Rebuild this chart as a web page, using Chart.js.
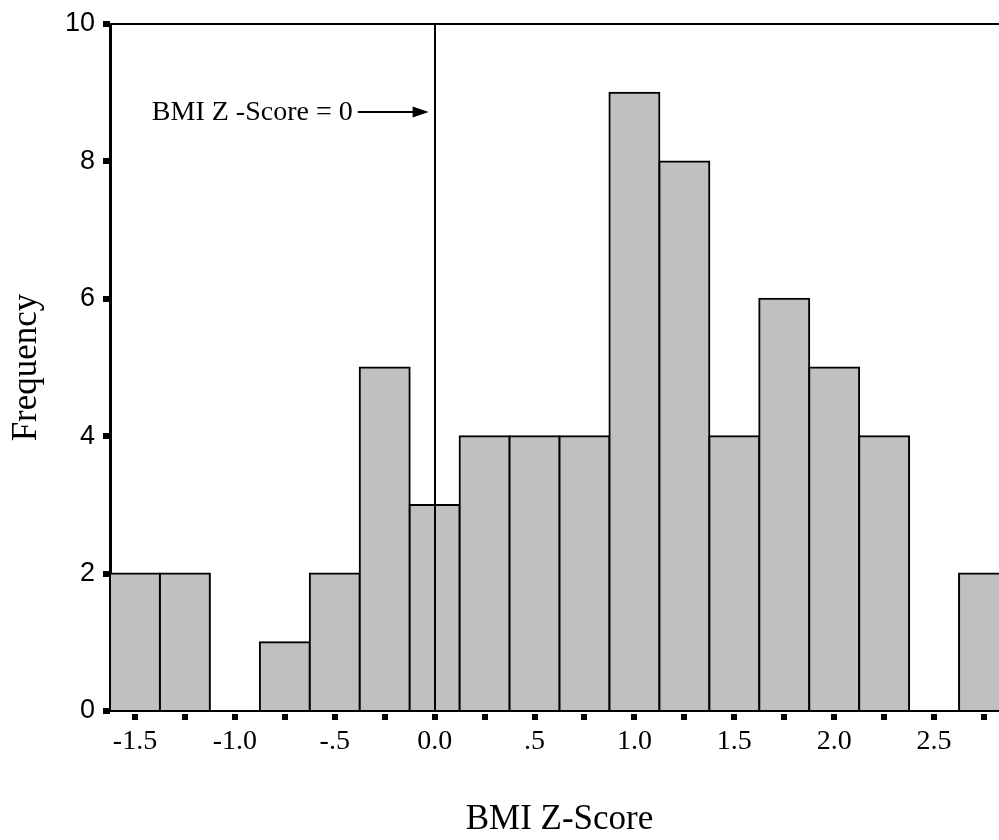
<!DOCTYPE html>
<html>
<head>
<meta charset="utf-8">
<script src="https://cdn.jsdelivr.net/npm/chart.js@4/dist/chart.umd.min.js"></script>
<style>
  html, body { margin: 0; padding: 0; background: #fff; overflow: hidden; width: 999px; height: 840px; }
  #wrap { width: 1012px; height: 840px; }
</style>
</head>
<body>
<div id="wrap"><canvas id="c" width="1012" height="840"></canvas></div>
<script>
// ---- data ----
const binCenters = [-1.5, -1.25, -1.0, -0.75, -0.5, -0.25, 0.0, 0.25, 0.5, 0.75, 1.0, 1.25, 1.5, 1.75, 2.0, 2.25, 2.5, 2.75];
const frequencies = [2, 2, 0, 1, 2, 5, 3, 4, 4, 4, 9, 8, 4, 6, 5, 4, 0, 2];
const xTickValues = [-1.5, -1.0, -0.5, 0.0, 0.5, 1.0, 1.5, 2.0, 2.5];
const xTickLabels = ['-1.5', '-1.0', '-.5', '0.0', '.5', '1.0', '1.5', '2.0', '2.5'];
const yTickValues = [0, 2, 4, 6, 8, 10];
const xTitle = 'BMI Z-Score';
const yTitle = 'Frequency';
const refLineValue = 0;
const annotationText = 'BMI Z -Score = 0';
const annotationY = 8.72;
const annotationTextEndX = -0.41;
const arrowStartX = -0.385;
const arrowTipX = -0.03;

const points = binCenters.map((x, i) => ({ x: x, y: frequencies[i] }));

const decorPlugin = {
  id: 'decor',
  afterDatasetsDraw(chart) {
    const { ctx, chartArea, scales } = chart;
    const xs = scales.x, ys = scales.y;
    ctx.save();
    ctx.strokeStyle = '#000';
    ctx.fillStyle = '#000';
    // top border line
    ctx.lineWidth = 2;
    ctx.beginPath();
    ctx.moveTo(chartArea.left, chartArea.top);
    ctx.lineTo(chartArea.right, chartArea.top);
    ctx.stroke();
    // reference line at 0
    const zx = Math.round(xs.getPixelForValue(refLineValue));
    ctx.beginPath();
    ctx.moveTo(zx, chartArea.top);
    ctx.lineTo(zx, chartArea.bottom);
    ctx.stroke();
    // annotation
    const ay = ys.getPixelForValue(annotationY);
    ctx.font = '28px "Liberation Serif", "Times New Roman", serif';
    ctx.textAlign = 'right';
    ctx.textBaseline = 'middle';
    ctx.fillText(annotationText, xs.getPixelForValue(annotationTextEndX), ay + 1);
    const sx = xs.getPixelForValue(arrowStartX);
    const tx = xs.getPixelForValue(arrowTipX);
    ctx.beginPath();
    ctx.moveTo(sx, ay);
    ctx.lineTo(tx - 14, ay);
    ctx.stroke();
    ctx.beginPath();
    ctx.moveTo(tx, ay);
    ctx.lineTo(tx - 16, ay - 5.5);
    ctx.lineTo(tx - 16, ay + 5.5);
    ctx.closePath();
    ctx.fill();
    // x tick squares
    xs.ticks.forEach(t => {
      const px = xs.getPixelForValue(t.value);
      ctx.fillRect(Math.round(px) - 3, chartArea.bottom + 3, 6, 6);
    });
    // y tick squares
    yTickValues.forEach(v => {
      const py = ys.getPixelForValue(v);
      ctx.fillRect(chartArea.left - 7, Math.round(py) - 3, 7, 6);
    });
    ctx.restore();
  }
};

new Chart(document.getElementById('c'), {
  type: 'bar',
  data: {
    datasets: [{
      data: points,
      backgroundColor: '#c0c0c0',
      borderColor: '#000',
      borderWidth: 2,
      borderSkipped: false,
      inflateAmount: 1,
      barPercentage: 1.0,
      categoryPercentage: 1.0
    }]
  },
  options: {
    responsive: false,
    animation: false,
    devicePixelRatio: 1,
    layout: { padding: { top: 24, right: 3, left: 0, bottom: 0 } },
    plugins: { legend: { display: false }, tooltip: { enabled: false } },
    scales: {
      x: {
        type: 'linear',
        offset: false,
        min: -1.625,
        max: 2.875,
        afterFit(scale) { scale.height = 129; scale.paddingLeft = 0; scale.paddingRight = 0; },
        afterBuildTicks(scale) { scale.ticks = binCenters.map(v => ({ value: v })); },
        grid: { display: false, drawTicks: false, offset: false },
        border: { display: true, color: '#000', width: 2 },
        ticks: {
          autoSkip: false,
          maxRotation: 0,
          padding: 14,
          color: '#000',
          font: { family: '"Liberation Serif", "Times New Roman", serif', size: 28 },
          callback(value) {
            const i = xTickValues.findIndex(v => Math.abs(v - value) < 1e-9);
            return i >= 0 ? xTickLabels[i] : '';
          }
        },
        title: {
          display: true,
          text: xTitle,
          color: '#000',
          font: { family: '"Liberation Serif", "Times New Roman", serif', size: 35, lineHeight: 1.15 },
          padding: { top: 0, bottom: 0 }
        }
      },
      y: {
        min: 0,
        max: 10,
        afterFit(scale) { scale.width = 110; scale.paddingTop = 0; scale.paddingBottom = 0; },
        afterBuildTicks(scale) { scale.ticks = yTickValues.map(v => ({ value: v })); },
        grid: { display: false, drawTicks: false },
        border: { display: true, color: '#000', width: 3 },
        ticks: {
          padding: 15,
          color: '#000',
          font: { family: '"Liberation Sans", Arial, sans-serif', size: 27 }
        },
        title: {
          display: true,
          text: yTitle,
          color: '#000',
          font: { family: '"Liberation Serif", "Times New Roman", serif', size: 35, lineHeight: 1.2 },
          padding: { top: 6, bottom: 0 }
        }
      }
    }
  },
  plugins: [decorPlugin]
});
</script>
</body>
</html>
